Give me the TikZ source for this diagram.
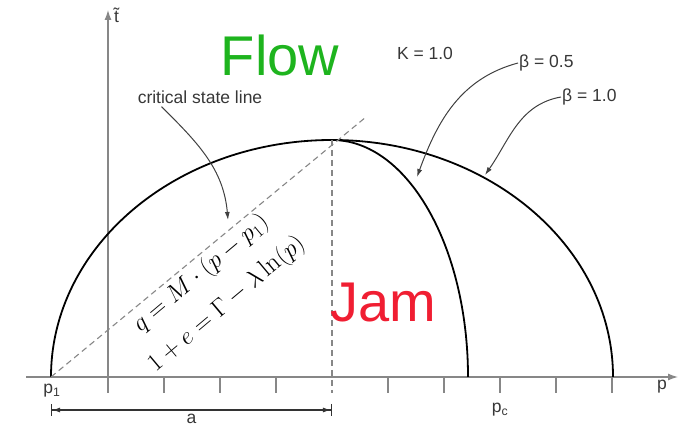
\documentclass[tikz,border=0pt]{standalone}
\usepackage{fontspec}
\setsansfont{Liberation Sans}
\usepackage{tikz}
\usetikzlibrary{arrows.meta,positioning}
\definecolor{flowgreen}{RGB}{30,180,30}
\definecolor{jamred}{RGB}{240,30,50}
\definecolor{axisgray}{RGB}{135,135,135}
\definecolor{labelgray}{RGB}{55,55,55}

\begin{document}
\begin{tikzpicture}[x=1pt,y=1pt,
  lbl/.style={font=\sffamily\fontsize{17.5}{19}\selectfont,text=labelgray,inner sep=1pt},
  big/.style={font=\sffamily\fontsize{56}{60}\selectfont,inner sep=0pt},
  curve/.style={line width=1.8pt,black},
  axis/.style={line width=1.3pt,axisgray,-{Latex[length=10pt,width=7pt]}},
  tick/.style={line width=1.1pt,axisgray},
  guide/.style={line width=1.1pt,axisgray,dash pattern=on 6pt off 4pt},
  ptr/.style={line width=1pt,black!75,-{Latex[length=8pt,width=5pt]}},
  dim/.style={line width=1.1pt,black!80,{Bar[width=12pt]Latex[length=8pt,width=5pt]}-{Latex[length=8pt,width=5pt]Bar[width=12pt]}},
  eq/.style={font=\fontsize{26}{40}\selectfont,rotate=40,inner sep=0pt,align=center}]
\useasboundingbox (0,0) rectangle (692,435);

% axes and ticks
\coordinate (xs) at (26,58);
\coordinate (xe) at (678,58);
\coordinate (ys) at (108,42);
\coordinate (ye) at (108,425);
\draw[axis] (xs) -- (xe);
\draw[axis] (ys) -- (ye);
\foreach \i in {1,2,3,5,6,7,8,9}
  \draw[tick] (108+56*\i,58) -- ++(0,-16);
\node[lbl,right] (tlab) at (113,420) {\~{t}};
\node[lbl] (plab) at (662,48) {p};

% yield surfaces
\coordinate (p1) at (51,58);
\coordinate (top) at (332,295);
\draw[curve] (p1) arc[start angle=180,end angle=0,x radius=281,y radius=237];
\draw[curve] (top) arc[start angle=90,end angle=0,x radius=136,y radius=237];

% critical state line and peak
\coordinate (csl) at (366,318);
\coordinate (foot) at (332,42);
\draw[guide] (p1) -- (csl);
\draw[guide] (top) -- (foot);

% dimension a
\coordinate (a1) at (51,25);
\coordinate (a2) at (332,25);
\draw[dim] (a1) -- node[lbl,below=3pt] (alab) {a} (a2);
\node[lbl] (p1lab) at (52,44) {p\textsubscript{1}};
\node[lbl] (pclab) at (500,25) {p\textsubscript{c}};

% region names
\node[big,text=flowgreen] (flow) at (280,380) {Flow};
\node[big,text=jamred] (jam) at (383,132) {Jam};

% equations along the line
\node[eq] (eqs) at (214,146) {$q=M\cdot(p-p_1)$\\$1+e=\Gamma-\lambda\ln(p)$};

% annotations
\node[lbl] (kval) at (425,382) {K = 1.0};
\node[lbl,right] (b05) at (518,372) {β = 0.5};
\node[lbl,right] (b10) at (561,338) {β = 1.0};
\node[lbl] (crit) at (200,338) {critical state line};
\coordinate (b05end) at (417,258);
\coordinate (b10end) at (485,260);
\coordinate (critend) at (228,215);
\draw[ptr] (b05.west) to[out=195,in=70] (b05end);
\draw[ptr] (b10.west) to[out=190,in=55] (b10end);
\draw[ptr] (crit.south west) ++(25,-2) to[out=-45,in=95] (critend);
\end{tikzpicture}
\end{document}
